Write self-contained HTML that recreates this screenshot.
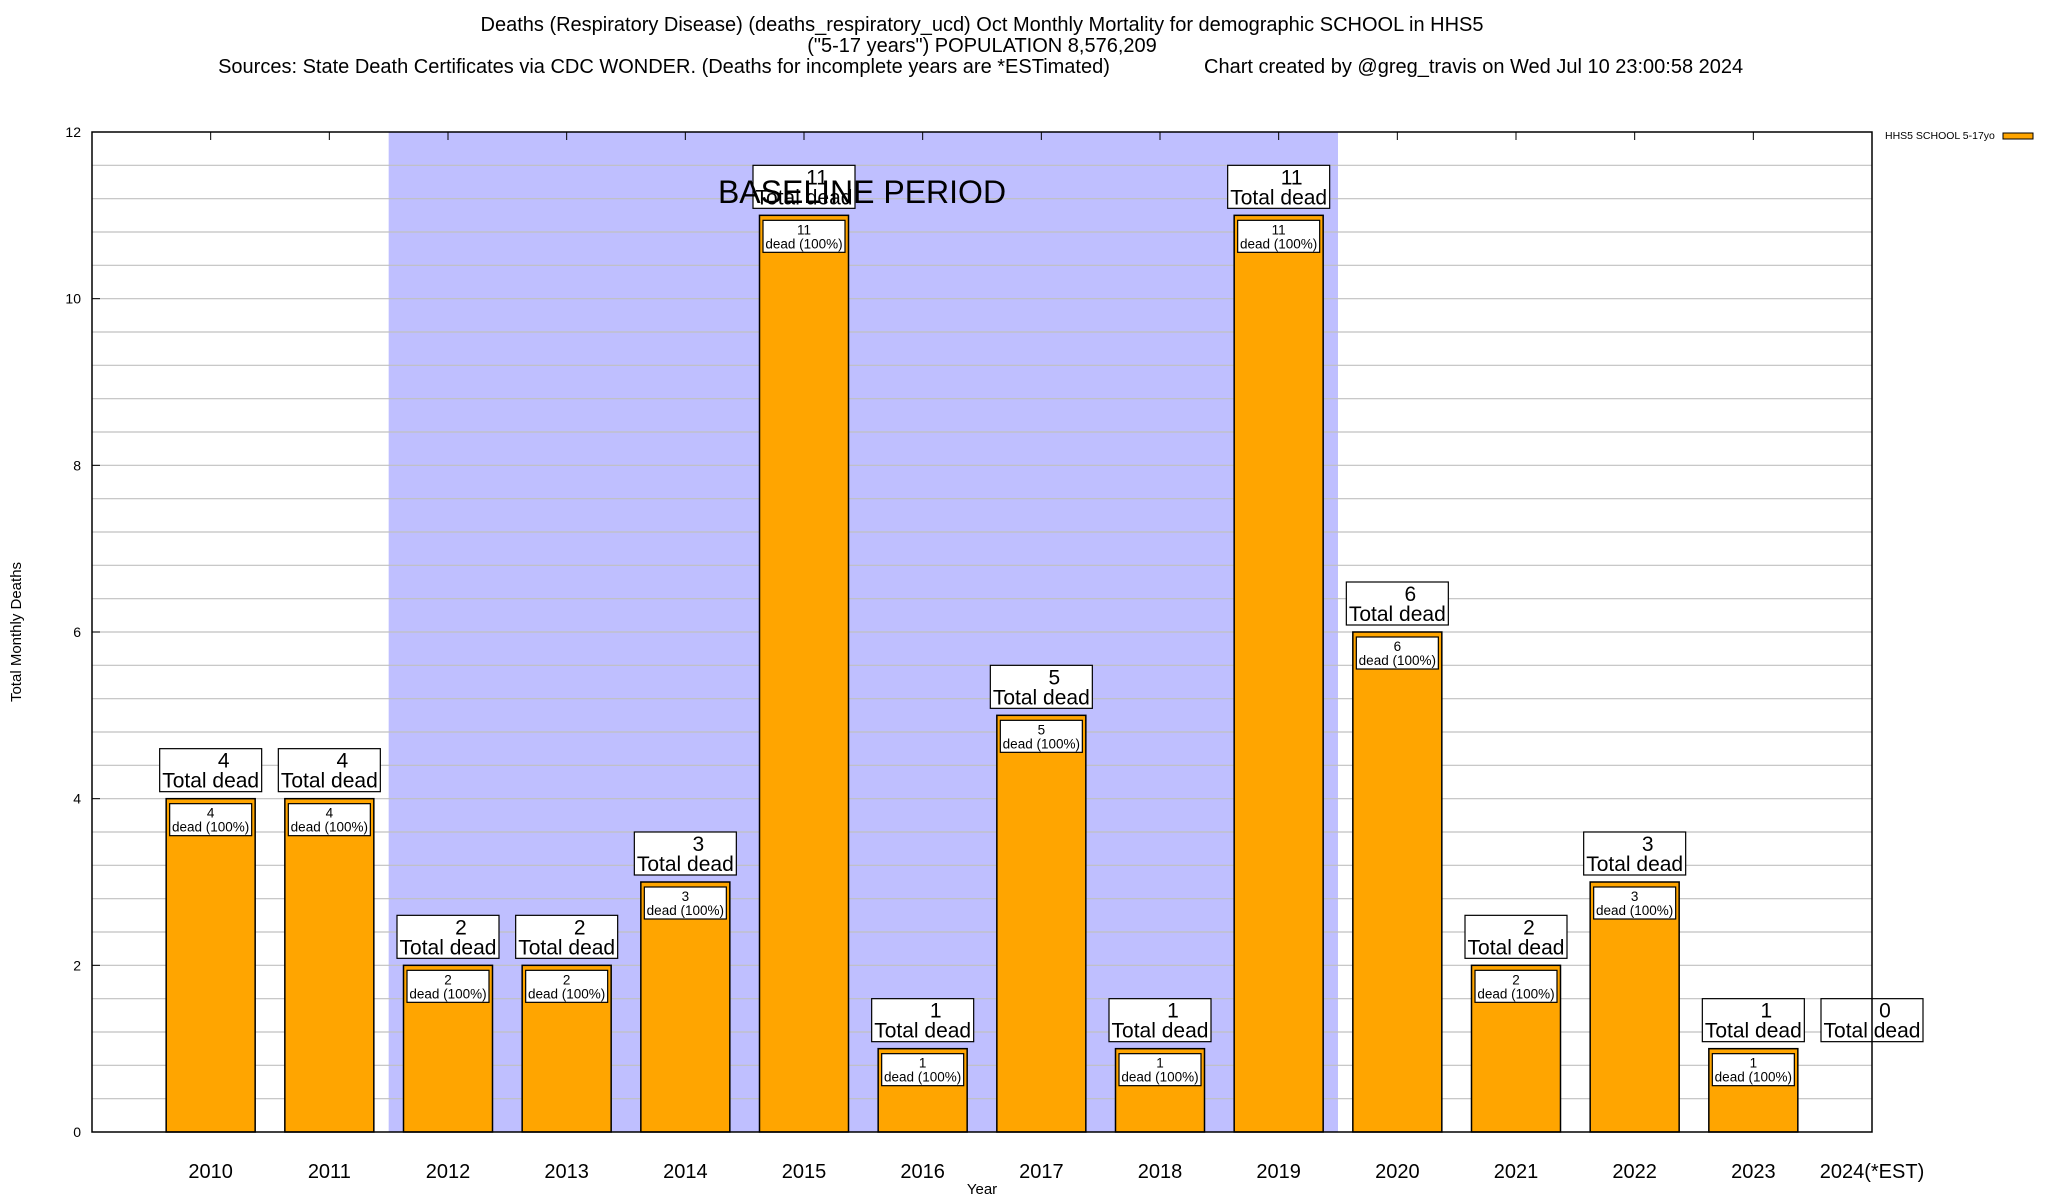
<!DOCTYPE html>
<html><head><meta charset="utf-8"><style>
html,body{margin:0;padding:0;background:#fff;}
svg{display:block;font-family:"Liberation Sans",sans-serif;}
</style></head><body>
<svg id="chart" width="2048" height="1200" viewBox="0 0 2048 1200" xmlns="http://www.w3.org/2000/svg">
<g font-size="20" text-anchor="middle" fill="#000">
<text x="982" y="31">Deaths (Respiratory Disease) (deaths_respiratory_ucd) Oct Monthly Mortality for demographic SCHOOL in HHS5</text>
<text x="982" y="52">("5-17 years") POPULATION 8,576,209</text>
<text x="664" y="73">Sources: State Death Certificates via CDC WONDER. (Deaths for incomplete years are *ESTimated)</text>
<text x="1204" y="73" text-anchor="start">Chart created by @greg_travis on Wed Jul 10 23:00:58 2024</text>
</g>
<g id="plot"></g>
<text x="21" y="632" transform="rotate(-90 21 632)" text-anchor="middle" font-size="15">Total Monthly Deaths</text>
<text x="982" y="1194" text-anchor="middle" font-size="15">Year</text>
<g>
<text x="1885" y="139" font-size="10.5">HHS5 SCHOOL 5-17yo</text>
<rect x="2003" y="133" width="30" height="6" fill="#ffa500" stroke="#000" stroke-width="1"/>
</g>
</svg>
<script>
const categories = ["2010","2011","2012","2013","2014","2015","2016","2017","2018","2019","2020","2021","2022","2023","2024(*EST)"];
const deaths = [4,4,2,2,3,11,1,5,1,11,6,2,3,1,0];
const yTicks = [0,2,4,6,8,10,12];
const baselineStart = 1.5, baselineEnd = 9.5;

const NS = "http://www.w3.org/2000/svg";
const L = 92, R = 1872, T = 132, B = 1132;
const xMin = -1, xMax = 14, yMax = 12;
function xs(i){ return L + (i - xMin) / (xMax - xMin) * (R - L); }
function ys(v){ return B - v / yMax * (B - T); }
const plot = document.getElementById("plot");
function mk(tag, attrs, parent){
  const e = document.createElementNS(NS, tag);
  for (const k in attrs) e.setAttribute(k, attrs[k]);
  (parent || plot).appendChild(e);
  return e;
}
const sh = mk("rect",{x:xs(baselineStart),y:T,width:xs(baselineEnd)-xs(baselineStart),height:B-T,fill:"#bfbfff"});


for (let k = 1; k < 30; k++){
  const v = k * 0.4;
  const g = mk("line",{x1:L,x2:R,y1:ys(v),y2:ys(v),stroke:"#c0c0c0","stroke-width":1.2});
  
  
}
yTicks.forEach(v => {
  const t = mk("text",{x:81,y:ys(v)+5,"font-size":14,"text-anchor":"end"});
  t.textContent = v;
  
  
  const tm = mk("line",{x1:L,x2:L+8,y1:ys(v),y2:ys(v),stroke:"#000"});
  
  
});
const bw = 89;
categories.forEach((c, i) => {
  const cx = xs(i), v = deaths[i];
  const tt = mk("line",{x1:cx,x2:cx,y1:T,y2:T+8,stroke:"#000"});
  
  
  const tb = mk("line",{x1:cx,x2:cx,y1:B,y2:B-8,stroke:"#000"});
  
  
  const xl = mk("text",{x:cx,y:1178,"font-size":20,"text-anchor":"middle"});
  xl.textContent = c;
  
  
  if (v > 0){
    const b = mk("rect",{x:cx-bw/2,y:ys(v),width:bw,height:B-ys(v),fill:"#ffa500",stroke:"#000","stroke-width":1.5});
    
    
    const ib = mk("rect",{x:cx-41,y:ys(v)+5,width:82,height:32,fill:"#fff",stroke:"#000","stroke-width":1.2});
    
    
    const it1 = mk("text",{x:cx,y:ys(v)+19,"font-size":13.5,"text-anchor":"middle"});
    it1.textContent = v;
    
    
    const it2 = mk("text",{x:cx,y:ys(v)+33,"font-size":13.5,"text-anchor":"middle"});
    it2.textContent = "dead (100%)";
    
    
  }
  const top = ys(Math.max(v,1)) - 7;
  const bx = mk("rect",{x:cx-51,y:top-43,width:102,height:43,fill:"#fff",stroke:"#000","stroke-width":1.2});
  
  
  const t1 = mk("text",{x:cx+13,y:top-24,"font-size":21,"text-anchor":"middle"});
  t1.textContent = v;
  
  
  const t2 = mk("text",{x:cx,y:top-4,"font-size":21,"text-anchor":"middle"});
  t2.textContent = "Total dead";
  
  
});
const bl = mk("text",{x:862,y:203,"font-size":32,"text-anchor":"middle"});
bl.textContent = "BASELINE PERIOD";


const fr = mk("rect",{x:L,y:T,width:R-L,height:B-T,fill:"none",stroke:"#000","stroke-width":1.5});


</script>
</body></html>
